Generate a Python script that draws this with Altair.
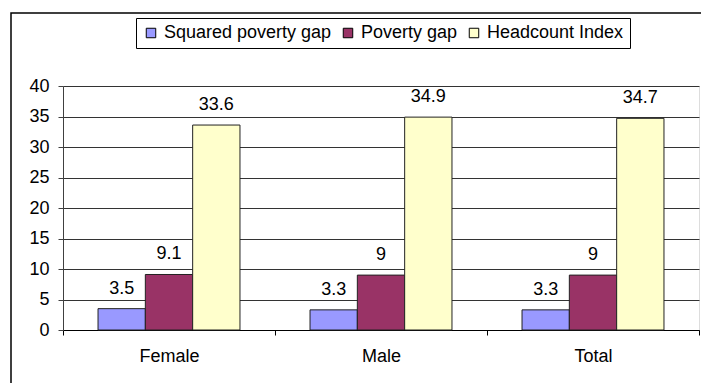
import altair as alt
import pandas as pd

categories = ["Female", "Male", "Total"]
series = ["Squared poverty gap", "Poverty gap", "Headcount Index"]
squared_gap = [3.5, 3.3, 3.3]
poverty_gap = [9.1, 9.0, 9.0]
headcount = [33.6, 34.9, 34.7]
colors = ["#9999FF", "#993366", "#FFFFCC"]
y_ticks = [0, 5, 10, 15, 20, 25, 30, 35, 40]

rows = []
for i, c in enumerate(categories):
    for s, vals in zip(series, [squared_gap, poverty_gap, headcount]):
        rows.append({"cat": c, "series": s, "value": vals[i]})
df = pd.DataFrame(rows)

FONT = "Liberation Sans"
FS = 18

x = alt.X("cat:N", sort=categories, title=None,
          scale=alt.Scale(paddingInner=0, paddingOuter=0),
          axis=alt.Axis(labelAngle=0, labelFontSize=FS, labelColor="#000000",
                        labelPadding=12, tickSize=5, tickBand="extent",
                        tickColor="#000000", domainColor="#000000", grid=False,
                        labelFont=FONT))
xo = alt.XOffset("series:N", sort=series,
                 scale=alt.Scale(paddingInner=0, paddingOuter=0.74))
y = alt.Y("value:Q", title=None,
          scale=alt.Scale(domain=[0, 40], nice=False),
          axis=alt.Axis(values=y_ticks, labelOverlap=False,
                        labelFontSize=FS, labelColor="#000000", labelPadding=9,
                        tickSize=5, tickColor="#404040", domainColor="#404040",
                        gridColor="#333333", gridWidth=1, labelFont=FONT))

base = alt.Chart(df).encode(x=x, xOffset=xo, y=y)

bars = base.mark_bar(stroke="#222222", strokeWidth=1).encode(
    color=alt.Color("series:N", sort=series,
                    scale=alt.Scale(domain=series, range=colors),
                    legend=alt.Legend(title=None, orient="none", direction="horizontal",
                                      legendX=73, legendY=-68,
                                      symbolType="square", symbolSize=90,
                                      symbolStrokeColor="#000000", symbolStrokeWidth=1,
                                      labelFontSize=FS, labelFont=FONT, labelColor="#000000",
                                      labelLimit=400, columnPadding=7, symbolOffset=0,
                                      labelOffset=4,
                                      fillColor="#FFFFFF", strokeColor="#000000",
                                      padding=6)),
)

labels = base.mark_text(baseline="alphabetic", dy=-15, fontSize=FS,
                        font=FONT, color="#000000").encode(
    text=alt.Text("value:Q", format="~g"),
)

frame_df = pd.DataFrame({"k": [0]})
frame = alt.Chart(frame_df).mark_rect(fill=None, stroke="#000000", strokeWidth=1.5).encode(
    x=alt.value(-52), y=alt.value(-73), x2=alt.value(720), y2=alt.value(320)
)

chart = alt.layer(bars, labels, frame).properties(
    width=636, height=244,
    padding={"left": 63, "top": 86, "right": 2, "bottom": 53},
    autosize=alt.AutoSizeParams(type="none"),
).configure_view(stroke="#808080", strokeWidth=1).configure(background="#FFFFFF")

chart.save("out.html", embed_options={"renderer": "svg", "actions": False})
